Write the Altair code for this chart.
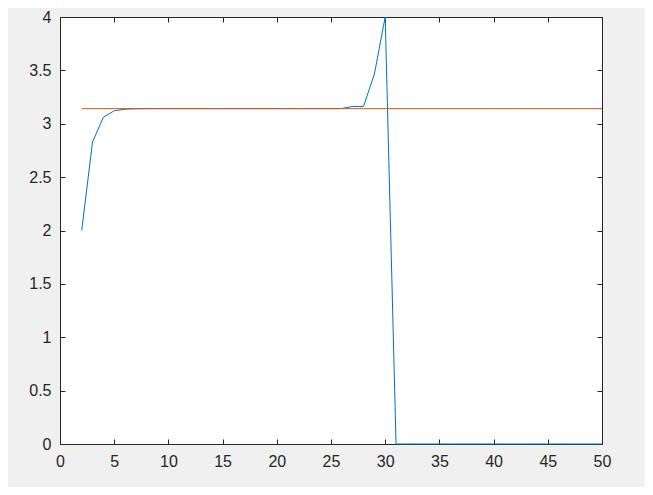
import altair as alt
import pandas as pd

k_values = list(range(2, 51))
approx_values = [
    2.0, 2.828427, 3.061467, 3.121445, 3.136548, 3.140331, 3.141277, 3.141514,
    3.141573, 3.141588, 3.141591, 3.141592, 3.141593, 3.141593, 3.141593,
    3.141593, 3.141593, 3.141593, 3.141593, 3.141593, 3.141593, 3.141597,
    3.141675, 3.141597, 3.142451, 3.162278, 3.162278, 3.464102, 4.0,
    0, 0, 0, 0, 0, 0, 0, 0, 0, 0, 0, 0, 0, 0, 0, 0, 0, 0, 0, 0, 0,
]
pi_values = [3.141593] * len(k_values)

x_ticks = [0, 5, 10, 15, 20, 25, 30, 35, 40, 45, 50]
y_ticks = [0, 0.5, 1, 1.5, 2, 2.5, 3, 3.5, 4]

df = pd.DataFrame({"k": k_values, "approx": approx_values[:len(k_values)], "pi": pi_values})

xs = alt.Scale(domain=[0, 50], nice=False, zero=False)
ys = alt.Scale(domain=[0, 4], nice=False, zero=False)

font = "Liberation Sans"
tick_col = "#262626"

def ax(orient, values, labels=True):
    kw = dict(orient=orient, values=values, offset=-5, tickSize=5, domain=False,
              grid=False, tickColor=tick_col, tickWidth=1, title=None,
              labels=labels)
    if labels:
        kw.update(labelFont=font, labelFontSize=16, labelColor=tick_col,
                  labelPadding=9, format="~g", labelFlush=False,
                  labelOverlap=False)
    return alt.Axis(**kw)

blue = alt.Chart(df).mark_line(color="#0072BD", strokeWidth=1).encode(
    x=alt.X("k:Q", scale=xs, axis=ax("bottom", x_ticks)),
    y=alt.Y("approx:Q", scale=ys, axis=ax("left", y_ticks)),
)

orange = alt.Chart(df).mark_line(color="#D95319", strokeWidth=1).encode(
    x=alt.X("k:Q", scale=xs, axis=ax("top", x_ticks, labels=False)),
    y=alt.Y("pi:Q", scale=ys, axis=ax("right", y_ticks, labels=False)),
)

chart = alt.layer(blue, orange).resolve_axis(
    x="independent", y="independent"
).properties(
    width=542, height=427,
    autosize=alt.AutoSizeParams(type="none"),
    padding={"left": 52, "top": 9, "right": 43, "bottom": 43},
    background="#f0f0f0",
).configure_view(
    stroke=tick_col, strokeWidth=1, fill="white"
)

chart.save("out.html", embed_options={"renderer": "svg", "actions": False})
